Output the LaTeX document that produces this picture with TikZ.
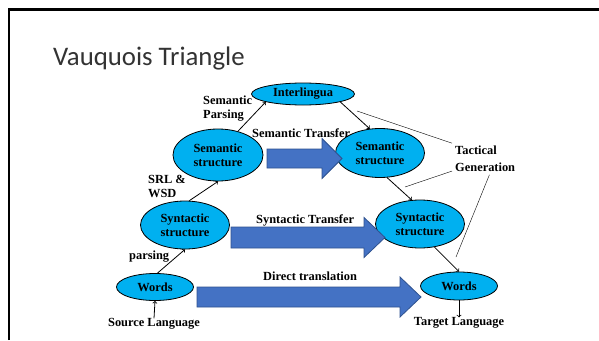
\documentclass[tikz,border=0pt]{standalone}
\usepackage{fontspec}
\setmainfont{Liberation Serif}
\newfontfamily\titlefont{Carlito}
\usetikzlibrary{shapes.geometric}

\definecolor{skyblue}{RGB}{0,176,240}
\definecolor{blockblue}{RGB}{68,114,196}
\definecolor{blockline}{RGB}{47,82,143}

\newcommand{\lblfont}{\fontsize{12.4}{14}\selectfont\bfseries}

\tikzset{
    oval/.style={ellipse, draw=black, fill=skyblue, line width=0.8pt, inner sep=0pt, align=center, font=\lblfont},
    lbl/.style={inner sep=0pt, font=\lblfont},
    conn/.style={->, line width=0.8pt}
}

\begin{document}
\begin{tikzpicture}[x=1pt, y=-1pt]
    \useasboundingbox (0,0) rectangle (599,340);
    \fill[white] (0,0) rectangle (599,340);
    \draw[line width=2.2pt] (9,340) -- (9,9.5) -- (599,9.5);

    \node[anchor=base west, inner sep=0pt, font=\titlefont\fontsize{26.8}{30}\selectfont, text=black!80] (title) at (53,65) {Vauquois Triangle};

    % the triangle
    \node[oval, minimum width=103pt, minimum height=22pt] (inter) at (303,94) {Interlingua};
    \node[oval, minimum width=90pt, minimum height=52pt] (semL) at (218,155) {Semantic\\structure};
    \node[oval, minimum width=89pt, minimum height=49pt] (semR) at (380,153) {Semantic\\structure};
    \node[oval, minimum width=89pt, minimum height=48pt] (synL) at (185,225) {Syntactic\\structure};
    \node[oval, minimum width=89pt, minimum height=48pt] (synR) at (420,224) {Syntactic\\structure};
    \node[oval, minimum width=77pt, minimum height=27pt] (wordsL) at (155,287) {Words};
    \node[oval, minimum width=77pt, minimum height=28pt] (wordsR) at (459,286) {Words};

    \node[lbl] (srcLang) at (154,324) {Source Language};
    \node[lbl] (tgtLang) at (459,323) {Target Language};

    \draw[conn] (srcLang.north) -- (wordsL.south);
    \draw[conn] (wordsL.80) -- (synL.south);
    \draw[conn] (synL.80) -- (semL.south);
    \draw[conn] (semL.50) -- (inter.192);
    \draw[conn] (inter.348) -- (semR.113);
    \draw[conn] (semR.286) -- (synR.109);
    \draw[conn] (synR.302) -- (wordsR.north);
    \draw[conn] (wordsR.south) -- (tgtLang.north);

    % transfer arrows
    \foreach \xa/\xb/\xc/\ym/\bh in {267/322/342/158.5/9.5, 231/364/385/237.5/10.5, 197/400/421/297/10}
        \draw[fill=blockblue, draw=blockline, line width=0.8pt] (\xa,{\ym-\bh}) -- (\xb,{\ym-\bh}) -- (\xb,{\ym-20}) -- (\xc,\ym) -- (\xb,{\ym+20}) -- (\xb,{\ym+\bh}) -- (\xa,{\ym+\bh}) -- cycle;

    \node[lbl, anchor=west, align=left] (semParse) at (203,108.5) {Semantic\\Parsing};
    \node[lbl, anchor=west] (semTrans) at (252,133) {Semantic Transfer};
    \node[lbl, anchor=west, align=left] (srlWsd) at (148,186) {SRL \&\\WSD};
    \node[lbl, anchor=west] (synTrans) at (256,220) {Syntactic Transfer};
    \node[lbl, anchor=west] (parse) at (129,257) {parsing};
    \node[lbl, anchor=west] (direct) at (263,276) {Direct translation};

    % tactical generation
    \node[lbl, anchor=west, align=left, inner sep=3pt] (tact) at (452,159) {Tactical\\[2.5pt]Generation};
    \coordinate (t1) at (357,111); \coordinate (t2) at (405,187); \coordinate (t3) at (456,257);
    \draw (tact.north west) -- (t1);
    \draw (tact.200) -- (t2);
    \draw (tact.285) -- (t3);
\end{tikzpicture}
\end{document}
